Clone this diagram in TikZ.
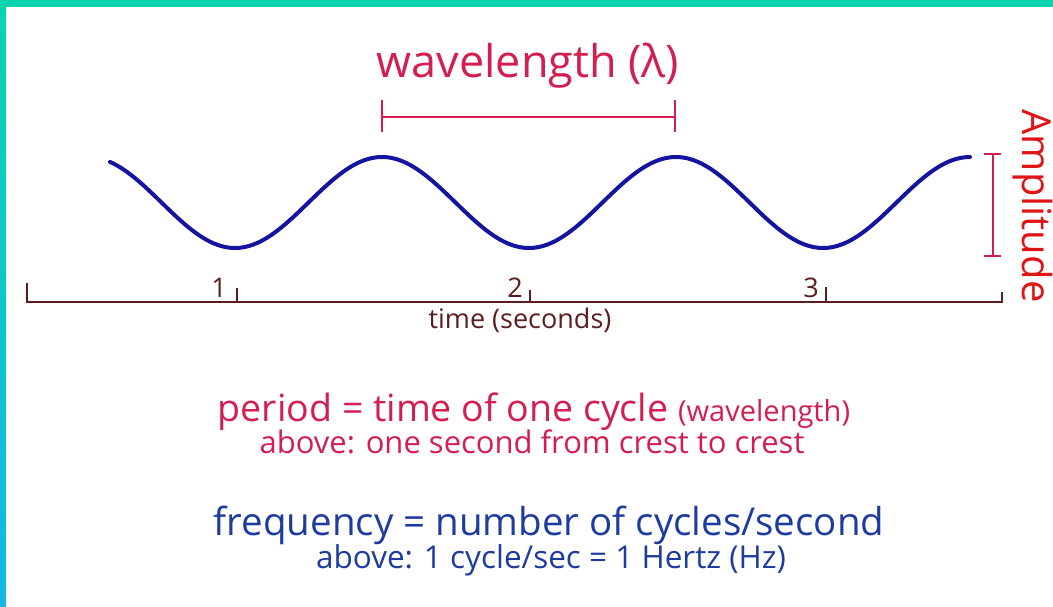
\documentclass[tikz,border=0pt]{standalone}
\usepackage{fontspec}
\setmainfont{Open Sans}
\definecolor{tealtop}{HTML}{08D4B0}
\definecolor{tealmid}{HTML}{14D6D4}
\definecolor{cyanbot}{HTML}{16B6E6}
\definecolor{wave}{HTML}{1414A0}
\definecolor{crimson}{HTML}{D41E50}
\definecolor{ampred}{HTML}{E01414}
\definecolor{axis}{HTML}{5A1E1E}
\definecolor{freqblue}{HTML}{1E3CA0}
\tikzset{
  lbl/.style={inner sep=0pt, anchor=base},
  crimbar/.style={draw=crimson, line width=2pt},
  axisline/.style={draw=axis, line width=2pt},
}
\begin{document}
\begin{tikzpicture}[x=1pt,y=-1pt]
\useasboundingbox (0,0) rectangle (1053,607);
% frame
\fill[tealtop] (0,0) rectangle (1053,7);
\shade[top color=tealtop, middle color=tealmid, bottom color=cyanbot] (0,0) rectangle (6,607);
% wave
\draw[wave, line width=4pt, line cap=round, samples=300, domain=110:970]
  plot ({\x},{202.5-45.5*cos(1.2244898*(\x-382))});
% wavelength bar
\coordinate (wl1) at (382,117);
\coordinate (wl2) at (675,117);
\coordinate (wl1t) at (382,100); \coordinate (wl1b) at (382,132);
\coordinate (wl2t) at (675,100); \coordinate (wl2b) at (675,132);
\draw[crimbar] (wl1) -- (wl2);
\draw[crimbar] (wl1t) -- (wl1b);
\draw[crimbar] (wl2t) -- (wl2b);
\node[lbl, text=crimson, font=\fontsize{45}{50}\selectfont] (wltext) at (528,78) {wavelength (λ)};
% amplitude bar
\coordinate (am1) at (993,154);
\coordinate (am2) at (993,256);
\coordinate (am1l) at (984,154); \coordinate (am1r) at (1001,154);
\coordinate (am2l) at (984,256); \coordinate (am2r) at (1001,256);
\draw[crimbar] (am1) -- (am2);
\draw[crimbar] (am1l) -- (am1r);
\draw[crimbar] (am2l) -- (am2r);
\node[lbl, text=ampred, rotate=-90, font=\fontsize{40}{46}\selectfont] (amtext) at (1022,206) {Amplitude};
% time axis
\coordinate (axL) at (27,302);
\coordinate (axR) at (1002,302);
\coordinate (axLt) at (27,283);
\coordinate (axRt) at (1002,292);
\draw[axisline] (axLt) -- (axL) -- (axR) -- (axRt);
\coordinate (t1) at (237,302); \coordinate (t1t) at (237,288);
\coordinate (t2) at (530,302); \coordinate (t2t) at (530,290);
\coordinate (t3) at (826,302); \coordinate (t3t) at (826,287);
\draw[axisline] (t1) -- (t1t);
\draw[axisline] (t2) -- (t2t);
\draw[axisline] (t3) -- (t3t);
\node[inner sep=0pt, anchor=base east, text=axis, font=\fontsize{27}{30}\selectfont] (n1) at (227,297) {1};
\node[inner sep=0pt, anchor=base east, text=axis, font=\fontsize{27}{30}\selectfont] (n2) at (523,297) {2};
\node[inner sep=0pt, anchor=base east, text=axis, font=\fontsize{27}{30}\selectfont] (n3) at (819,297) {3};
\node[lbl, text=axis, font=\fontsize{27}{30}\selectfont] (timetext) at (520,328) {time (seconds)};
% period
\node[lbl, text=crimson, font=\fontsize{37.5}{42}\selectfont] (period) at (534,421)
  {period = time of one cycle {\fontsize{29}{32}\selectfont (wavelength)}};
\node[lbl, text=crimson, font=\fontsize{31}{34}\selectfont] (period2) at (532,453)
  {above: one second from crest to crest};
% frequency
\node[lbl, text=freqblue, font=\fontsize{38.5}{42}\selectfont] (freq) at (549,535)
  {frequency = number of cycles/second};
\node[lbl, text=freqblue, font=\fontsize{31.5}{34}\selectfont] (freq2) at (551,568)
  {above: 1 cycle/sec = 1 Hertz (Hz)};
\end{tikzpicture}
\end{document}
